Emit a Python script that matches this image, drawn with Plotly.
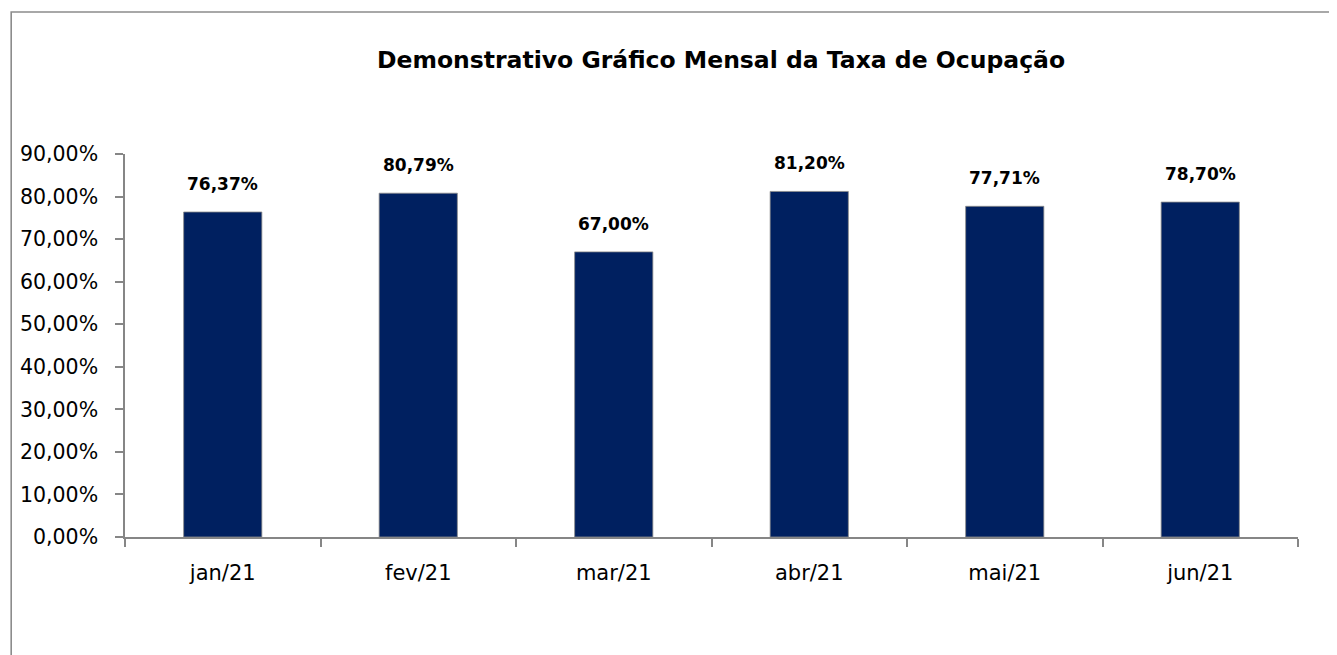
import plotly.graph_objects as go

months = ["jan/21", "fev/21", "mar/21", "abr/21", "mai/21", "jun/21"]
occupancy = [0.7637, 0.8079, 0.6700, 0.8120, 0.7771, 0.7870]
y_ticks = [0.0, 0.1, 0.2, 0.3, 0.4, 0.5, 0.6, 0.7, 0.8, 0.9]
title_text = "Demonstrativo Gráfico Mensal da Taxa de Ocupação"

OFF = 8  # page body margin
W, H = 1337 - OFF, 655 - OFF
ML, MT = 123 - OFF, 154 - OFF
PR, PB = 1298 - OFF, 537 - OFF
MR, MB = W - PR, H - PB
PW, PH = PR - ML, PB - MT

def px_x(p):
    return (p - OFF - ML) / PW

def px_y(p):
    return (PB - (p - OFF)) / PH

FONT = "DejaVu Sans"

fig = go.Figure()
fig.add_trace(go.Bar(
    x=months, y=occupancy,
    marker=dict(color="#002060", line=dict(color="#8a8a8a", width=0.8)),
    width=0.4,
    hoverinfo="skip",
))

for m, v in zip(months, occupancy):
    fig.add_annotation(
        x=m, y=v, xref="x", yref="y",
        text="<b>" + f"{v*100:.2f}".replace(".", ",") + "%</b>",
        showarrow=False, yanchor="bottom", yshift=16,
        font=dict(family=FONT, size=17, color="#000000"),
    )

fig.add_annotation(
    x=px_x(720), y=px_y(60), xref="paper", yref="paper",
    text="<b>" + title_text + "</b>", showarrow=False,
    xanchor="center", yanchor="middle",
    font=dict(family=FONT, size=23.5, color="#000000"),
)

fig.add_shape(
    type="rect", xref="paper", yref="paper",
    x0=px_x(9), x1=px_x(1360), y0=px_y(12), y1=px_y(680),
    line=dict(color="#8c8c8c", width=1.6), fillcolor="rgba(0,0,0,0)",
    layer="below",
)

fig.update_layout(
    width=W, height=H,
    margin=dict(l=ML, r=MR, t=MT, b=MB, pad=0),
    paper_bgcolor="white", plot_bgcolor="white",
    separators=",.",
    showlegend=False,
    font=dict(family=FONT, size=20, color="#000000"),
    xaxis=dict(
        type="category", showline=True, linecolor="#868686", linewidth=1.5,
        ticks="outside", ticklen=8, tickcolor="#868686", tickwidth=1.5,
        tickson="boundaries", showgrid=False, zeroline=False,
        tickfont=dict(family=FONT, size=21, color="#000000"),
        ticklabelstandoff=16,
        range=[-0.5, 5.5],
    ),
    yaxis=dict(
        range=[0, 0.9], tickvals=y_ticks, tickformat=".2%",
        showline=True, linecolor="#868686", linewidth=1.5,
        ticks="outside", ticklen=8, tickcolor="#868686", tickwidth=1.5,
        showgrid=False, zeroline=False, ticklabelstandoff=13,
        tickfont=dict(family=FONT, size=20.5, color="#000000"),
    ),
)

fig.write_html("out.html")
